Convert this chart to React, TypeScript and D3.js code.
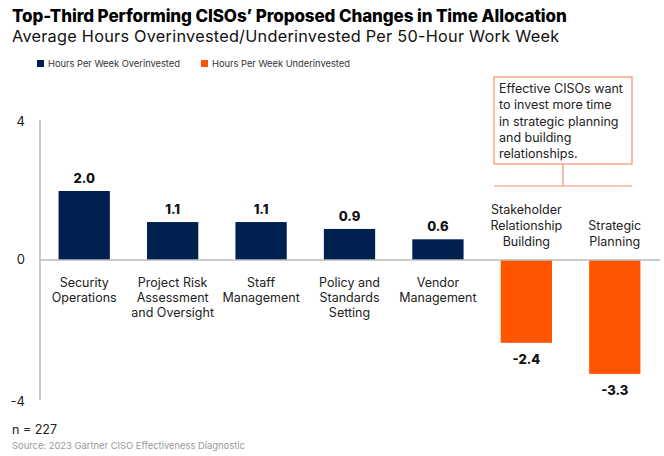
import * as d3 from "d3";
import { useEffect, useRef } from "react";

const categories = [
  ["Security", "Operations"],
  ["Project Risk", "Assessment", "and Oversight"],
  ["Staff", "Management"],
  ["Policy and", "Standards", "Setting"],
  ["Vendor", "Management"],
  ["Stakeholder", "Relationship", "Building"],
  ["Strategic", "Planning"],
];
const values = [2.0, 1.1, 1.1, 0.9, 0.6, -2.4, -3.3];
const yTicks = [4, 0, -4];
const legendLabels = ["Hours Per Week Overinvested", "Hours Per Week Underinvested"];
const noteLines = [
  "Effective CISOs want",
  "to invest more time",
  "in strategic planning",
  "and building",
  "relationships.",
];

const NAVY = "#002050";
const ORANGE = "#ff5500";
const FONT = "Inter, 'Noto Sans', sans-serif";

const App: React.FC = () => {
  const ref = useRef<SVGSVGElement | null>(null);

  useEffect(() => {
    const svg = d3.select(ref.current);
    svg.selectAll("*").remove();

    svg.attr("font-family", FONT);

    const keys = categories.map((c) => c.join(" "));
    const x = d3
      .scaleBand()
      .domain(keys)
      .range([40, 659])
      .paddingInner(0.42)
      .paddingOuter(0.21);
    const y = d3.scaleLinear().domain([-4, 4]).range([398, 122]);

    // title
    svg
      .append("text")
      .attr("x", 12)
      .attr("y", 22)
      .attr("font-size", 17)
      .attr("font-weight", 800)
      .attr("letter-spacing", -0.1)
      .attr("fill", "#000")
      .text("Top-Third Performing CISOs’ Proposed Changes in Time Allocation");
    svg
      .append("text")
      .attr("x", 12)
      .attr("y", 42)
      .attr("font-size", 16.3)
      .attr("letter-spacing", 0.25)
      .attr("fill", "#111")
      .text("Average Hours Overinvested/Underinvested Per 50-Hour Work Week");

    // legend
    const legend = svg.append("g").attr("font-size", 9.3).attr("fill", "#333");
    [NAVY, ORANGE].forEach((c, i) => {
      const lx = i === 0 ? 37 : 201;
      legend.append("rect").attr("x", lx).attr("y", 60).attr("width", 7).attr("height", 7).attr("fill", c);
      legend
        .append("text")
        .attr("x", lx + 11)
        .attr("y", 67)
        .text(legendLabels[i]);
    });

    // y axis
    svg
      .append("line")
      .attr("x1", 40)
      .attr("x2", 40)
      .attr("y1", 120)
      .attr("y2", 400)
      .attr("stroke", "#aaa")
      .attr("stroke-width", 1.2);
    svg
      .append("g")
      .selectAll("text")
      .data(yTicks)
      .join("text")
      .attr("x", 25)
      .attr("y", (d) => y(d) + (d < 0 ? 8 : 4))
      .attr("text-anchor", "end")
      .attr("font-size", 13)
      .attr("fill", "#222")
      .text((d) => d);

    // bars
    svg
      .append("g")
      .selectAll("rect")
      .data(values)
      .join("rect")
      .attr("x", (_, i) => x(keys[i]) ?? 0)
      .attr("width", x.bandwidth())
      .attr("y", (d) => y(Math.max(0, d)))
      .attr("height", (d) => Math.abs(y(d) - y(0)))
      .attr("fill", (d) => (d >= 0 ? NAVY : ORANGE));

    // zero line
    svg
      .append("line")
      .attr("x1", 40)
      .attr("x2", 660)
      .attr("y1", y(0))
      .attr("y2", y(0))
      .attr("stroke", "#bbb")
      .attr("stroke-width", 1.5);

    // value labels
    svg
      .append("g")
      .selectAll("text")
      .data(values)
      .join("text")
      .attr("x", (_, i) => (x(keys[i]) ?? 0) + x.bandwidth() / 2)
      .attr("y", (d) => (d >= 0 ? y(d) - 8 : y(d) + 21))
      .attr("text-anchor", "middle")
      .attr("font-size", 13)
      .attr("font-weight", 800)
      .attr("fill", "#111")
      .text((d) => d.toFixed(1));

    // category labels
    const cat = svg.append("g").attr("font-size", 12.5).attr("fill", "#222").attr("text-anchor", "middle");
    categories.forEach((lines, i) => {
      const cx = (x(keys[i]) ?? 0) + x.bandwidth() / 2;
      const neg = values[i] < 0;
      const lh = neg ? 15.8 : 15;
      const y0 = neg ? y(0) - 14 - (lines.length - 1) * lh : y(0) + 27;
      const t = cat.append("text").attr("x", cx).attr("y", y0);
      lines.forEach((l, j) => {
        t.append("tspan").attr("x", cx).attr("y", y0 + j * lh).text(l);
      });
    });

    // annotation
    const note = svg.append("g");
    note
      .append("rect")
      .attr("x", 494)
      .attr("y", 77)
      .attr("width", 138)
      .attr("height", 87)
      .attr("fill", "#fff")
      .attr("stroke", "#f8906a")
      .attr("stroke-width", 1.2);
    note
      .append("line")
      .attr("x1", 563)
      .attr("x2", 563)
      .attr("y1", 164)
      .attr("y2", 186)
      .attr("stroke", "#f8906a")
      .attr("stroke-width", 1.2);
    note
      .append("line")
      .attr("x1", 494)
      .attr("x2", 632)
      .attr("y1", 186)
      .attr("y2", 186)
      .attr("stroke", "#f8906a")
      .attr("stroke-width", 1.2);
    note
      .append("g")
      .selectAll("text")
      .data(noteLines)
      .join("text")
      .attr("x", 499)
      .attr("y", (_, i) => 93 + i * 16.3)
      .attr("font-size", 12.5)
      .attr("fill", "#222")
      .text((d) => d);

    // footer
    svg
      .append("text")
      .attr("x", 12)
      .attr("y", 434)
      .attr("font-size", 12.5)
      .attr("fill", "#222")
      .text("n = 227");
    svg
      .append("text")
      .attr("x", 12)
      .attr("y", 449)
      .attr("font-size", 9.4)
      .attr("fill", "#999")
      .text("Source: 2023 Gartner CISO Effectiveness Diagnostic");
  }, []);

  return (
    <svg
      ref={ref}
      width={664}
      height={456}
      style={{ position: "absolute", left: 0, top: 0, background: "#fff" }}
    ></svg>
  );
};

export default App;
